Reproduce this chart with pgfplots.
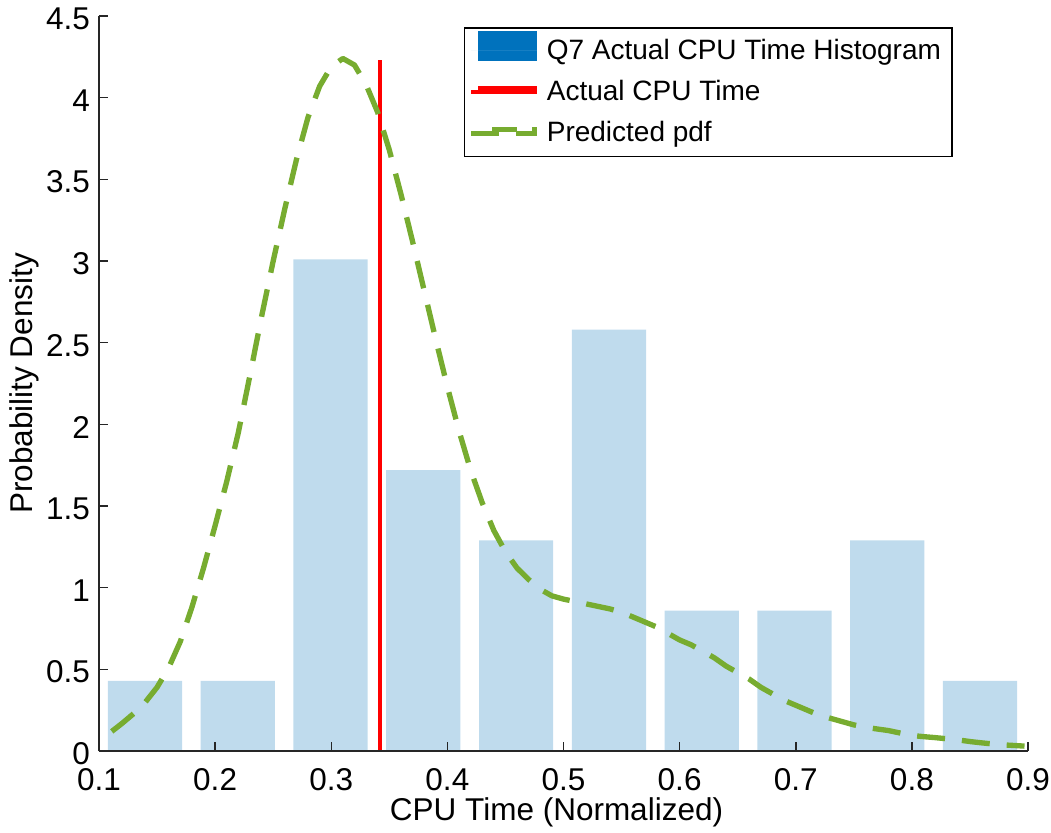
\documentclass[border=0pt]{standalone}
\usepackage{fontspec}
\setmainfont{Liberation Sans}
\usepackage{pgfplots}
\pgfplotsset{compat=1.18}

\definecolor{matblue}{RGB}{0,114,189}
\definecolor{barblue}{RGB}{191,219,237}
\definecolor{pdfgreen}{RGB}{119,172,48}
\definecolor{axgray}{RGB}{38,38,38}

\begin{document}
\begin{tikzpicture}
\begin{axis}[
    scale only axis,
    width=278.7pt, height=220.5pt,
    xmin=0.1, xmax=0.9,
    ymin=0, ymax=4.5,
    xtick={0.1,0.2,0.3,0.4,0.5,0.6,0.7,0.8,0.9},
    ytick={0,0.5,1,1.5,2,2.5,3,3.5,4,4.5},
    axis x line=bottom, axis y line=left,
    axis line style={-, axgray, line width=0.6pt},
    tick align=inside, major tick length=2.7pt,
    tick style={axgray, line width=0.45pt},
    axis on top,
    /pgf/number format/assume math mode=true,
    ticklabel style={font=\fontsize{9.45}{11}\selectfont, inner sep=0pt},
    yticklabel style={xshift=-2.5pt, yshift=-0.8pt},
    xticklabel style={yshift=-5pt},
    xlabel={CPU Time (Normalized)},
    xlabel style={at={(axis description cs:0.4925,-0.0952)}, anchor=base, inner sep=0pt, font=\fontsize{9.45}{11}\selectfont},
    ylabel={Probability Density},
    ylabel style={at={(axis description cs:-0.0721,0.5)}, anchor=base, inner sep=0pt, font=\fontsize{9.45}{11}\selectfont},
    legend cell align=left,
    legend style={at={(0.919,0.985)}, anchor=north east, draw=black, line width=0.45pt, fill=white,
        inner xsep=1.2pt, inner ysep=0.7pt, row sep=0pt, column sep=0pt,
        font=\fontsize{8.4}{10}\selectfont,
        nodes={inner xsep=2.1pt, inner ysep=1.78pt, text height=6.9pt, text depth=1.95pt}},
]

% histogram (density)
\addplot[ybar, bar width=0.0639, fill=barblue, draw=none,
    legend image code/.code={\fill[matblue] (2.1pt,-3pt) rectangle (19.8pt,6pt); \path (0pt,0pt) -- (19.8pt,0pt);}]
    coordinates {
        (0.1396,0.43) (0.2195,0.43) (0.2994,3.01) (0.3793,1.72) (0.4592,1.29)
        (0.5391,2.58) (0.6190,0.86) (0.6989,0.86) (0.7788,1.29) (0.8587,0.43)
    };
\addlegendentry{Q7 Actual CPU Time Histogram}

% actual value
\addplot[red, line width=1.2pt,
    legend image code/.code={\draw[red, line width=1.2pt] (2.1pt,1.2pt) -- (19.8pt,1.2pt); \path (0pt,0pt) -- (19.8pt,0pt);}]
    coordinates {(0.342,0) (0.342,4.23)};
\addlegendentry{Actual CPU Time}

% predicted pdf
\addplot[pdfgreen, line width=1.6pt, dash pattern=on 8.4pt off 5.1pt, line join=round,
    legend image code/.code={\draw[pdfgreen, line width=1.6pt, dash pattern=on 7.5pt off 4.5pt, dash phase=7.8pt] (2.1pt,1.2pt) -- (19.8pt,1.2pt); \path (0pt,0pt) -- (19.8pt,0pt);}]
    coordinates {
        (0.111,0.12) (0.120,0.17) (0.130,0.23) (0.140,0.30) (0.150,0.39)
        (0.160,0.51) (0.170,0.67) (0.180,0.88) (0.190,1.12) (0.200,1.38)
        (0.210,1.65) (0.220,1.95) (0.230,2.30) (0.240,2.66) (0.250,3.00)
        (0.260,3.32) (0.270,3.62) (0.280,3.88) (0.290,4.07) (0.300,4.19)
        (0.310,4.24) (0.320,4.20) (0.330,4.08) (0.340,3.91) (0.350,3.68)
        (0.360,3.41) (0.370,3.12) (0.380,2.82) (0.390,2.52) (0.400,2.23)
        (0.410,1.96) (0.420,1.72) (0.430,1.52) (0.440,1.35) (0.450,1.22)
        (0.460,1.12) (0.470,1.05) (0.480,0.99) (0.490,0.95) (0.500,0.93)
        (0.510,0.915) (0.520,0.90) (0.530,0.885) (0.540,0.87) (0.550,0.85)
        (0.560,0.82) (0.570,0.79) (0.580,0.76) (0.590,0.72) (0.600,0.68)
        (0.610,0.65) (0.620,0.61) (0.630,0.57) (0.640,0.52) (0.650,0.48)
        (0.660,0.44) (0.670,0.39) (0.680,0.35) (0.690,0.31) (0.700,0.28)
        (0.710,0.25) (0.720,0.22) (0.730,0.20) (0.740,0.18) (0.750,0.16)
        (0.760,0.145) (0.770,0.135) (0.780,0.125) (0.790,0.11) (0.800,0.095)
        (0.810,0.088) (0.820,0.082) (0.830,0.075) (0.840,0.068) (0.850,0.058)
        (0.860,0.050) (0.870,0.043) (0.880,0.037) (0.890,0.033) (0.897,0.030)
    };
\addlegendentry{Predicted pdf}

\coordinate (O) at (axis cs:0.1,0);
\end{axis}
\pgfresetboundingbox
\path (O) ++(-29.7pt,-24.3pt) rectangle ++(315.3pt,249.6pt);
\end{tikzpicture}
\end{document}
